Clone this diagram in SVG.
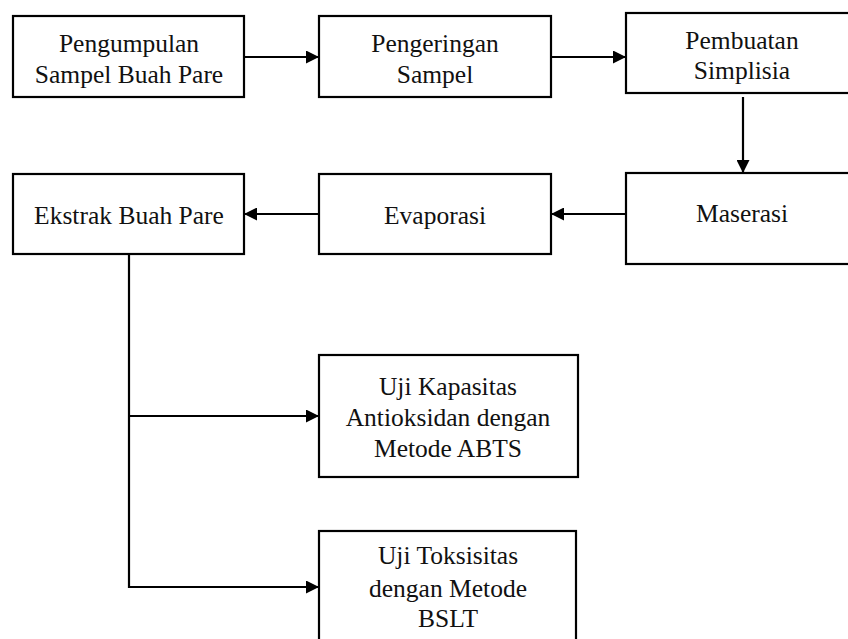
<svg xmlns="http://www.w3.org/2000/svg" width="848" height="639" viewBox="0 0 848 639">
<style>
.box{fill:#fff;stroke:#000;stroke-width:2.2}
.t{font-size:25.5px;fill:#111;text-anchor:middle}
.c{fill:none;stroke:#000;stroke-width:2.2}
</style>
<defs>
<marker id="ah" viewBox="0 0 13 13" refX="13" refY="6.5" markerWidth="13" markerHeight="13" markerUnits="userSpaceOnUse" orient="auto">
<path d="M0,0 L13,6.5 L0,13 Z" fill="#000"/>
</marker>
</defs>
<rect width="848" height="639" fill="#fff"/>
<g font-family="DejaVu Serif, serif">
<g id="n1"><rect class="box" x="13" y="16" width="231" height="81"/><text class="t" x="129" y="52" font-family="Liberation Serif">Pengumpulan</text><text class="t" x="129" y="83" font-family="Liberation Serif">Sampel Buah Pare</text></g>
<g id="n2"><rect class="box" x="319" y="16" width="232" height="81"/><text class="t" x="435" y="52" font-family="Liberation Serif">Pengeringan</text><text class="t" x="435" y="83" font-family="Liberation Serif">Sampel</text></g>
<g id="n3"><rect class="box" x="626" y="13" width="240" height="80"/><text class="t" x="742" y="49" font-family="Liberation Serif">Pembuatan</text><text class="t" x="742" y="79" font-family="Liberation Serif">Simplisia</text></g>
<g id="n4"><rect class="box" x="13" y="174" width="231" height="80"/><text class="t" x="129" y="224" font-family="Liberation Serif">Ekstrak Buah Pare</text></g>
<g id="n5"><rect class="box" x="319" y="174" width="232" height="80"/><text class="t" x="435" y="224" font-family="Liberation Serif">Evaporasi</text></g>
<g id="n6"><rect class="box" x="626" y="173" width="240" height="91"/><text class="t" x="742" y="222" font-family="Liberation Serif">Maserasi</text></g>
<g id="n7"><rect class="box" x="319" y="355" width="259" height="122"/><text class="t" x="448" y="395" font-family="Liberation Serif">Uji Kapasitas</text><text class="t" x="448" y="426" font-family="Liberation Serif">Antioksidan dengan</text><text class="t" x="448" y="457" font-family="Liberation Serif">Metode ABTS</text></g>
<g id="n8"><rect class="box" x="319" y="531" width="257" height="130"/><text class="t" x="448" y="564" font-family="Liberation Serif">Uji Toksisitas</text><text class="t" x="448" y="597" font-family="Liberation Serif">dengan Metode</text><text class="t" x="448" y="627" font-family="Liberation Serif">BSLT</text></g>
</g>
<g id="connectors">
<line class="c" x1="244" y1="57" x2="319" y2="57" marker-end="url(#ah)"/>
<line class="c" x1="551" y1="57" x2="626" y2="57" marker-end="url(#ah)"/>
<line class="c" x1="743" y1="97" x2="743" y2="173" marker-end="url(#ah)"/>
<line class="c" x1="626" y1="214" x2="551" y2="214" marker-end="url(#ah)"/>
<line class="c" x1="319" y1="214" x2="244" y2="214" marker-end="url(#ah)"/>
<polyline class="c" points="129,254 129,587 319,587" marker-end="url(#ah)"/>
<line class="c" x1="129" y1="416" x2="319" y2="416" marker-end="url(#ah)"/>
</g>
</svg>
